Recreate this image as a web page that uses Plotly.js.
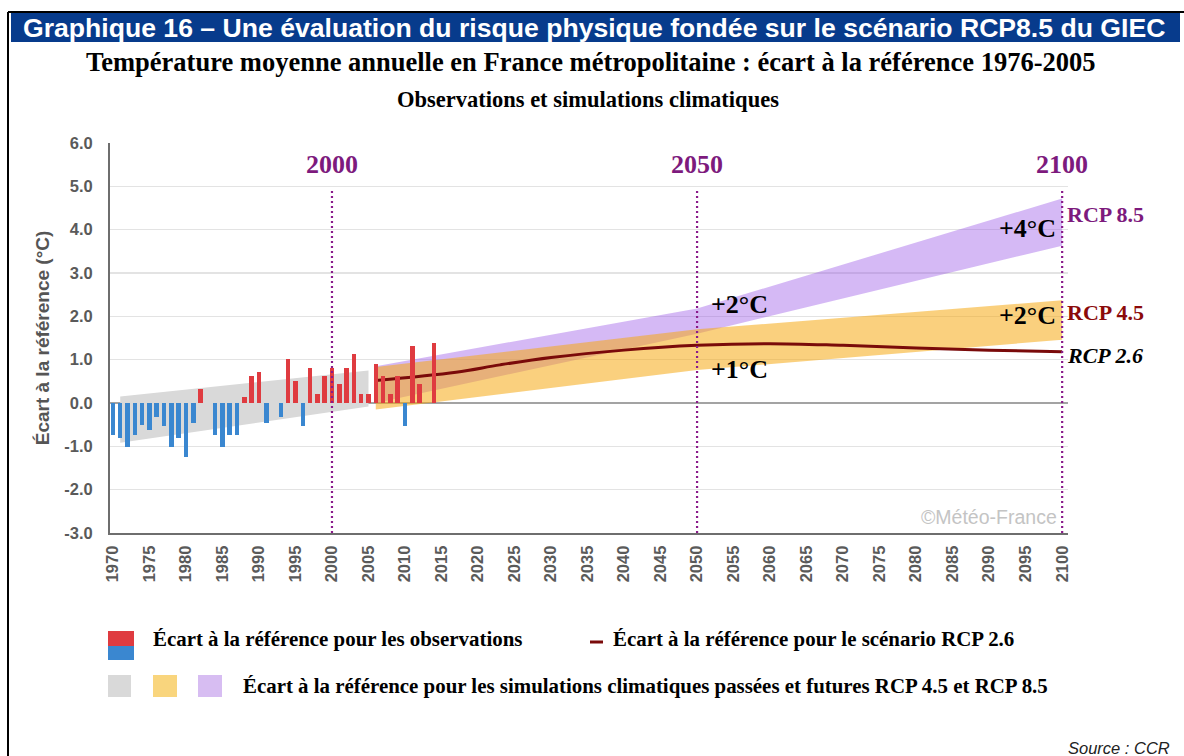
<!DOCTYPE html>
<html><head><meta charset="utf-8">
<script src="https://cdn.plot.ly/plotly-3.0.1.min.js"></script>
<style>html,body{margin:0;padding:0;background:#fff;} #chart{width:1184px;height:756px;}</style>
</head><body><div id="chart"></div>
<script>
// ---- Data ----
const obsYears = [1970,1971,1972,1973,1974,1975,1976,1977,1978,1979,1980,1981,1982,1983,1984,1985,1986,1987,1988,1989,1990,1991,1992,1993,1994,1995,1996,1997,1998,1999,2000,2001,2002,2003,2004,2005,2006,2007,2008,2009,2010,2011,2012,2013,2014];
const obsValues = [-0.73,-0.81,-1.02,-0.73,-0.50,-0.63,-0.32,-0.52,-1.02,-0.81,-1.24,-0.45,0.32,0.0,-0.73,-1.02,-0.73,-0.73,0.14,0.62,0.72,-0.45,0.0,-0.33,1.02,0.51,-0.52,0.81,0.21,0.62,0.81,0.44,0.81,1.12,0.21,0.21,0.90,0.62,0.21,0.62,-0.52,1.32,0.44,0.0,1.39];

const histSimYears = [1971, 2005];
const histSimUpper = [0.15, 0.75];
const histSimLower = [-0.92, -0.08];

const rcp85Years = [2006, 2050, 2100];
const rcp85Upper = [0.85, 2.18, 4.72];
const rcp85Lower = [0.0, 1.60, 3.63];

const rcp45Years = [2006, 2050, 2100];
const rcp45Upper = [0.83, 1.70, 2.37];
const rcp45Lower = [-0.15, 0.76, 1.46];

const rcp26Years = [2006, 2017, 2023, 2030, 2040, 2050, 2060, 2070, 2080, 2090, 2100];
const rcp26Values = [0.52, 0.71, 0.88, 1.05, 1.22, 1.33, 1.37, 1.33, 1.27, 1.22, 1.18];

const markerYears = [2000, 2050, 2100];
const markerLabels = ['2000', '2050', '2100'];

const xTickYears = [1970,1975,1980,1985,1990,1995,2000,2005,2010,2015,2020,2025,2030,2035,2040,2045,2050,2055,2060,2065,2070,2075,2080,2085,2090,2095,2100];
const yTickValues = [-3,-2,-1,0,1,2,3,4,5,6];
const yTickLabels = ['-3.0','-2.0','-1.0','0.0','1.0','2.0','3.0','4.0','5.0','6.0'];

// ---- Layout helpers (pixel -> paper) ----
const L = 110, R = 1068, T = 143, B = 533;
const px = x => (x - L) / (R - L);
const py = y => (B - y) / (B - T);

const XR = [1969.6, 2100.8];
const YR = [-3, 6];

const serif = 'Liberation Serif, Times New Roman, serif';
const sans = 'Liberation Sans, Arial, sans-serif';
const purple = '#7d1a7d';

function band(xs, up, lo, fill, name) {
  return {
    x: xs.concat(xs.slice().reverse()),
    y: up.concat(lo.slice().reverse()),
    type: 'scatter', mode: 'lines', fill: 'toself',
    fillcolor: fill, line: {width: 0}, hoverinfo: 'skip', showlegend: false, name: name
  };
}

const traces = [
  band(histSimYears, histSimUpper, histSimLower, '#d9d9d9', 'hist'),
  band(rcp85Years, rcp85Upper, rcp85Lower, 'rgba(150,80,230,0.40)', 'RCP 8.5'),
  band(rcp45Years, rcp45Upper, rcp45Lower, 'rgba(245,170,20,0.55)', 'RCP 4.5'),
  {
    x: rcp26Years, y: rcp26Values, type: 'scatter', mode: 'lines',
    line: {color: '#7a0a0a', width: 3, shape: 'spline'}, showlegend: false, name: 'RCP 2.6'
  },
  {
    x: obsYears, y: obsValues, type: 'bar', xaxis: 'x2', yaxis: 'y2', width: 0.62,
    marker: {color: obsValues.map(v => v >= 0 ? '#df3b40' : '#3a87d0'), line: {width: 0}},
    showlegend: false, name: 'Observations'
  }
];

const shapes = [];
markerYears.forEach(yr => shapes.push({
  type: 'line', xref: 'x', yref: 'y', x0: yr, x1: yr, y0: -3, y1: 4.9,
  line: {color: '#8a1a8a', width: 2.2, dash: '2px,3px'}, layer: 'above'
}));
shapes.push({type: 'line', xref: 'paper', yref: 'paper', x0: px(8), x1: px(1184), y0: py(12), y1: py(12), line: {color: '#000', width: 2}});
shapes.push({type: 'line', xref: 'paper', yref: 'paper', x0: px(8), x1: px(8), y0: py(12), y1: py(760), line: {color: '#000', width: 2}});
shapes.push({type: 'rect', xref: 'paper', yref: 'paper', x0: px(11), x1: px(1180), y0: py(42), y1: py(13), fillcolor: '#073b8c', line: {width: 0}});
const sw = (x0, x1, y0, y1, c) => shapes.push({type: 'rect', xref: 'paper', yref: 'paper', x0: px(x0), x1: px(x1), y0: py(y1), y1: py(y0), fillcolor: c, line: {width: 0}});
sw(108, 134, 631, 646, '#df3b40');
sw(108, 134, 646, 660, '#3a87d0');
sw(108, 131, 675, 697, '#d9d9d9');
sw(153, 177, 675, 697, '#f9d57d');
sw(198, 222, 675, 697, '#d7bdf2');
shapes.push({type: 'line', xref: 'paper', yref: 'paper', x0: px(590), x1: px(603), y0: py(642), y1: py(642), line: {color: '#7a0a0a', width: 3}});

const ann = [];
const A = o => ann.push(Object.assign({showarrow: false}, o));
A({xref: 'paper', yref: 'paper', x: px(21), y: py(28), xanchor: 'left', yanchor: 'middle',
   text: 'Graphique 16 – Une évaluation du risque physique fondée sur le scénario RCP8.5 du GIEC',
   font: {family: sans, size: 26.6, color: '#ffffff', weight: 'bold'}});
A({xref: 'paper', yref: 'paper', x: px(590), y: py(62), xanchor: 'center', yanchor: 'middle',
   text: 'Température moyenne annuelle en France métropolitaine : écart à la référence 1976-2005',
   font: {family: serif, size: 26.5, color: '#000', weight: 'bold'}});
A({xref: 'paper', yref: 'paper', x: px(588), y: py(100), xanchor: 'center', yanchor: 'middle',
   text: 'Observations et simulations climatiques',
   font: {family: serif, size: 22.5, color: '#000', weight: 'bold'}});
markerYears.forEach((yr, i) => A({xref: 'x', yref: 'y', x: yr, y: 5.5, xanchor: 'center', yanchor: 'middle',
   text: markerLabels[i], font: {family: serif, size: 26, color: purple, weight: 'bold'}}));
const big = {family: serif, size: 26, color: '#000', weight: 'bold'};
A({xref: 'x', yref: 'y', x: 2051.6, y: 2.27, xanchor: 'left', yanchor: 'middle', text: '+2°C', font: big});
A({xref: 'x', yref: 'y', x: 2051.6, y: 0.77, xanchor: 'left', yanchor: 'middle', text: '+1°C', font: big});
A({xref: 'x', yref: 'y', x: 2099.4, y: 4.02, xanchor: 'right', yanchor: 'middle', text: '+4°C', font: big});
A({xref: 'x', yref: 'y', x: 2099.4, y: 2.02, xanchor: 'right', yanchor: 'middle', text: '+2°C', font: big});
A({xref: 'x', yref: 'y', x: 2100.4, y: 4.35, xanchor: 'left', yanchor: 'middle', text: 'RCP 8.5', font: {family: serif, size: 22, color: purple, weight: 'bold'}});
A({xref: 'x', yref: 'y', x: 2100.4, y: 2.09, xanchor: 'left', yanchor: 'middle', text: 'RCP 4.5', font: {family: serif, size: 22, color: '#8b0a0a', weight: 'bold'}});
A({xref: 'x', yref: 'y', x: 2100.4, y: 1.09, xanchor: 'left', yanchor: 'middle', text: 'RCP 2.6', font: {family: serif, size: 22, color: '#000', weight: 'bold', style: 'italic'}});
A({xref: 'x', yref: 'y', x: 2099.6, y: -2.63, xanchor: 'right', yanchor: 'middle', text: '©Météo-France', font: {family: sans, size: 19.5, color: '#c4c4c4'}});
const lg = {family: serif, size: 20.9, color: '#000', weight: 'bold'};
A({xref: 'paper', yref: 'paper', x: px(151), y: py(639), xanchor: 'left', yanchor: 'middle', text: 'Écart à la référence pour les observations', font: lg});
A({xref: 'paper', yref: 'paper', x: px(611), y: py(639), xanchor: 'left', yanchor: 'middle', text: 'Écart à la référence pour le scénario RCP 2.6', font: lg});
A({xref: 'paper', yref: 'paper', x: px(241), y: py(686), xanchor: 'left', yanchor: 'middle', text: 'Écart à la référence pour les simulations climatiques passées et futures RCP 4.5 et RCP 8.5', font: lg});
A({xref: 'paper', yref: 'paper', x: px(1172), y: py(748), xanchor: 'right', yanchor: 'middle', text: 'Source : CCR', font: {family: sans, size: 16.5, color: '#222', style: 'italic'}});

const tickFont = {family: sans, size: 16.5, color: '#5a5a5a', weight: 'bold'};
const layout = {
  width: 1184, height: 756,
  margin: {l: L, r: 1184 - R, t: T, b: 756 - B, pad: 0},
  paper_bgcolor: '#fff', plot_bgcolor: '#fff',
  showlegend: false,
  xaxis: {
    range: XR, tickmode: 'array', tickvals: xTickYears, ticktext: xTickYears.map(String),
    tickangle: -90, tickfont: tickFont, showgrid: false, zeroline: false,
    showline: true, linecolor: '#6e6e6e', linewidth: 2, ticks: '', ticklabelstandoff: 4
  },
  yaxis: {
    range: YR, tickmode: 'array', tickvals: yTickValues, ticktext: yTickLabels,
    tickfont: tickFont, showgrid: true, gridcolor: '#e3e3e3', gridwidth: 1.5,
    zeroline: true, zerolinecolor: '#a3a3a3', zerolinewidth: 2,
    showline: true, linecolor: '#6e6e6e', linewidth: 2, ticks: '', ticklabelstandoff: 12,
    title: {text: 'Écart à la référence (°C)', font: {family: sans, size: 19, color: '#555', weight: 'bold'}, standoff: 10}
  },
  xaxis2: {range: XR, overlaying: 'x', visible: false},
  yaxis2: {range: YR, overlaying: 'y', visible: false},
  bargap: 0,
  shapes: shapes,
  annotations: ann
};

Plotly.newPlot('chart', traces, layout, {displayModeBar: false, staticPlot: true});
</script>
</body></html>
